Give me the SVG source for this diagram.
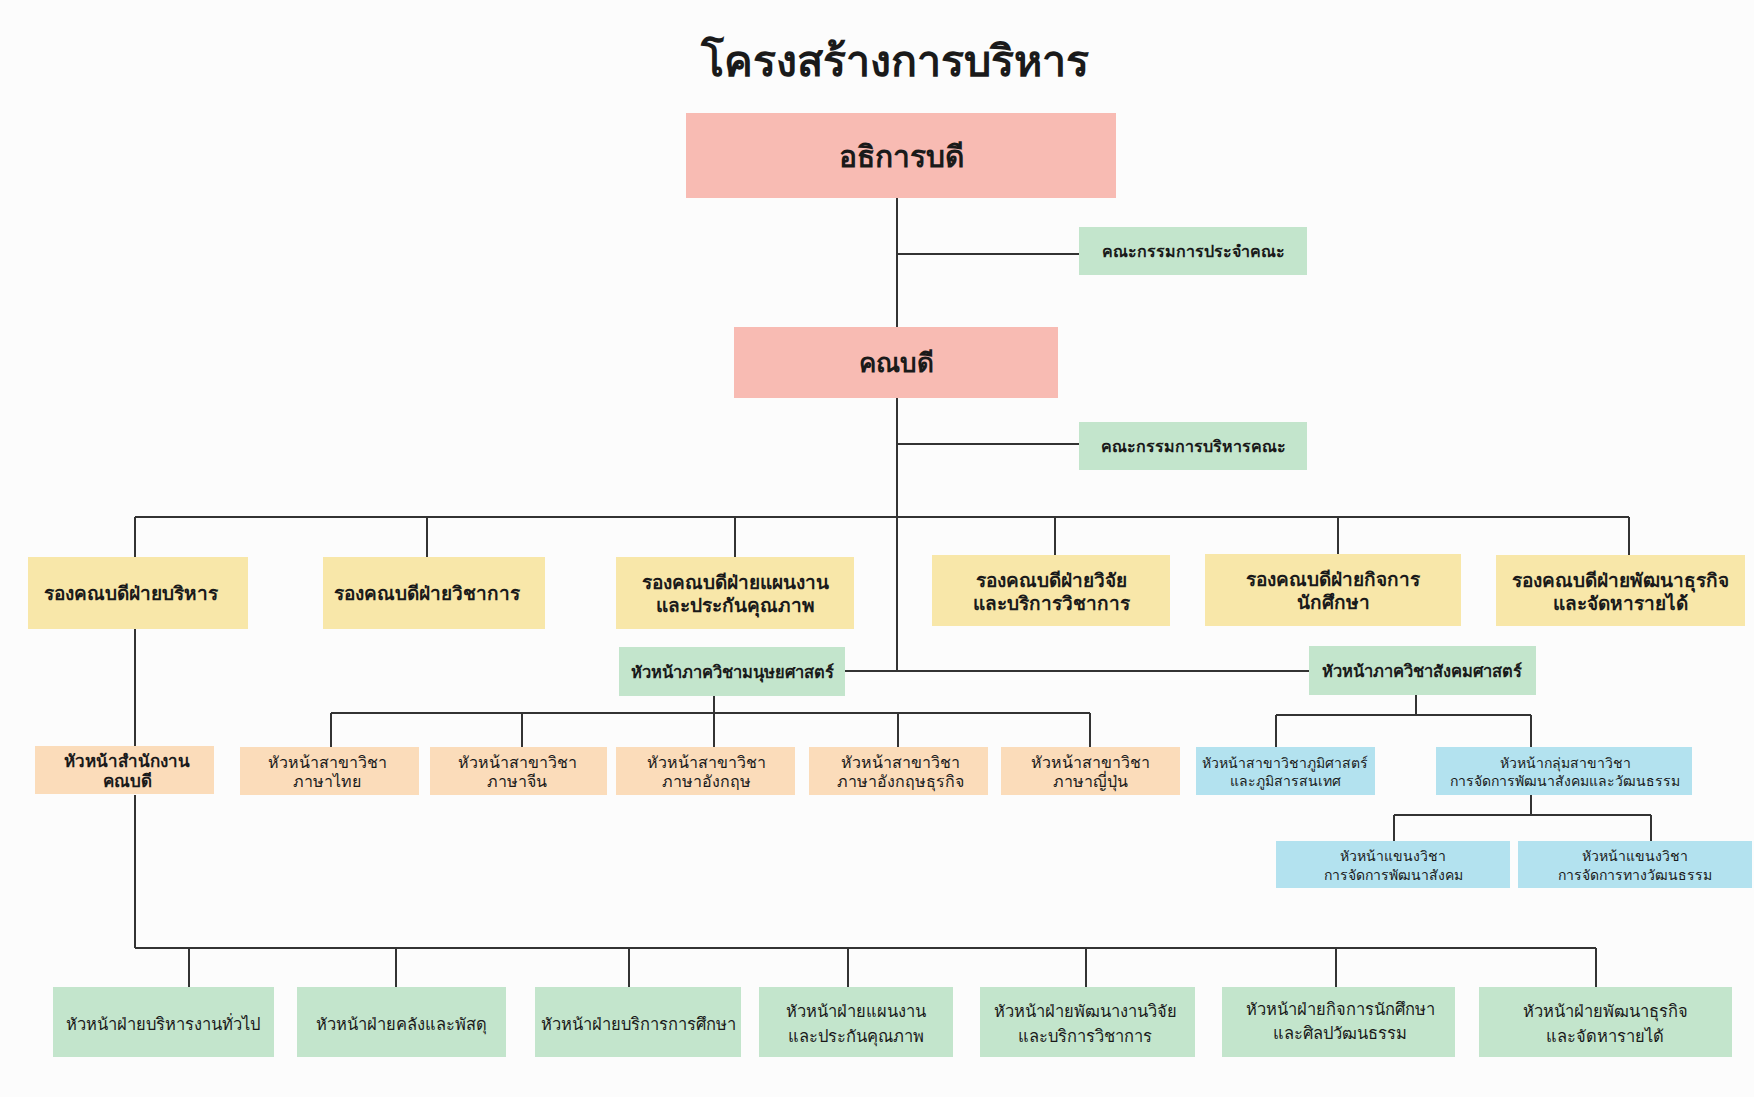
<svg xmlns="http://www.w3.org/2000/svg" width="1754" height="1097" viewBox="0 0 1754 1097">
<style>
text{font-family:"Noto Sans","Noto Sans CJK SC",sans-serif;fill:#1a1a1a;text-anchor:middle;dominant-baseline:central}
.title{font-size:43px;font-weight:700;dominant-baseline:alphabetic}
.pink{fill:#f8bbb3}
.green{fill:#c3e5cc}
.yellow{fill:#f8e7a9}
.orange{fill:#fbdcba}
.blue{fill:#b3e2ef}
.t1{font-size:30px;font-weight:700}
.t2{font-size:26px;font-weight:700}
.ty{font-size:19px;font-weight:700}
.tc{font-size:16px;font-weight:600}
.tg{font-size:16.5px;font-weight:700}
.to{font-size:16px}
.tob{font-size:17px;font-weight:600}
.tb{font-size:14px}
.tbot{font-size:16.5px}
.conn path{fill:none;stroke:#333;stroke-width:2}
</style>
<rect width="1754" height="1097" fill="#fcfcfc"/>
<text class="title" x="895" y="76">โครงสร้างการบริหาร</text>
<g class="conn" id="connectors">
<path d="M897 198V671"/>
<path d="M897 254H1079"/>
<path d="M897 444H1079"/>
<path d="M135 517H1629"/>
<path d="M135 517V557M135 629V747M135 795V948"/>
<path d="M427 517V557M735 517V557M1055 517V555M1338 517V554M1629 517V555"/>
<path d="M845 671H1309"/>
<path d="M714 696V713M331 713H1090M331 713V747M522 713V747M714 713V747M898 713V747M1090 713V747"/>
<path d="M1416 695V715M1276 715H1531M1276 715V747M1531 715V747"/>
<path d="M1531 795V815M1394 815H1651M1394 815V841M1651 815V841"/>
<path d="M135 948H1596M189 948V987M396 948V987M629 948V987M848 948V987M1086 948V987M1336 948V987M1596 948V987"/>
</g>
<g id="n-president"><rect class="pink" x="686" y="113" width="430" height="85"/><text class="t1" x="901" y="155">อธิการบดี</text></g>
<g id="n-board"><rect class="green" x="1079" y="227" width="228" height="48"/><text class="tc" x="1193" y="251">คณะกรรมการประจำคณะ</text></g>
<g id="n-dean"><rect class="pink" x="734" y="327" width="324" height="71"/><text class="t2" x="896" y="362">คณบดี</text></g>
<g id="n-exec"><rect class="green" x="1079" y="422" width="228" height="48"/><text class="tc" x="1193" y="446">คณะกรรมการบริหารคณะ</text></g>

<g id="n-vd-admin"><rect class="yellow" x="28" y="557" width="220" height="72"/><text class="ty" x="131" y="593">รองคณบดีฝ่ายบริหาร</text></g>
<g id="n-vd-acad"><rect class="yellow" x="323" y="557" width="222" height="72"/><text class="ty" x="427" y="593">รองคณบดีฝ่ายวิชาการ</text></g>
<g id="n-vd-plan"><rect class="yellow" x="616" y="557" width="238" height="72"/><text class="ty" x="735" y="582">รองคณบดีฝ่ายแผนงาน</text><text class="ty" x="735" y="605">และประกันคุณภาพ</text></g>
<g id="n-vd-research"><rect class="yellow" x="932" y="555" width="238" height="71"/><text class="ty" x="1051" y="580">รองคณบดีฝ่ายวิจัย</text><text class="ty" x="1051" y="603">และบริการวิชาการ</text></g>
<g id="n-vd-student"><rect class="yellow" x="1205" y="554" width="256" height="72"/><text class="ty" x="1333" y="579">รองคณบดีฝ่ายกิจการ</text><text class="ty" x="1333" y="602">นักศึกษา</text></g>
<g id="n-vd-business"><rect class="yellow" x="1496" y="555" width="249" height="71"/><text class="ty" x="1620" y="580">รองคณบดีฝ่ายพัฒนาธุรกิจ</text><text class="ty" x="1620" y="603">และจัดหารายได้</text></g>

<g id="n-hum"><rect class="green" x="619" y="647" width="226" height="49"/><text class="tg" x="732" y="671">หัวหน้าภาควิชามนุษยศาสตร์</text></g>
<g id="n-soc"><rect class="green" x="1309" y="646" width="227" height="49"/><text class="tg" x="1422" y="670">หัวหน้าภาควิชาสังคมศาสตร์</text></g>

<g id="n-office"><rect class="orange" x="35" y="746" width="179" height="48"/><text class="tob" x="127" y="760">หัวหน้าสำนักงาน</text><text class="tob" x="127" y="780">คณบดี</text></g>
<g id="n-thai"><rect class="orange" x="240" y="747" width="179" height="48"/><text class="to" x="327" y="762">หัวหน้าสาขาวิชา</text><text class="to" x="327" y="781">ภาษาไทย</text></g>
<g id="n-chinese"><rect class="orange" x="430" y="747" width="177" height="48"/><text class="to" x="517" y="762">หัวหน้าสาขาวิชา</text><text class="to" x="517" y="781">ภาษาจีน</text></g>
<g id="n-english"><rect class="orange" x="616" y="747" width="179" height="48"/><text class="to" x="706" y="762">หัวหน้าสาขาวิชา</text><text class="to" x="706" y="781">ภาษาอังกฤษ</text></g>
<g id="n-buseng"><rect class="orange" x="809" y="747" width="179" height="48"/><text class="to" x="900" y="762">หัวหน้าสาขาวิชา</text><text class="to" x="900" y="781">ภาษาอังกฤษธุรกิจ</text></g>
<g id="n-japanese"><rect class="orange" x="1001" y="747" width="179" height="48"/><text class="to" x="1090" y="762">หัวหน้าสาขาวิชา</text><text class="to" x="1090" y="781">ภาษาญี่ปุ่น</text></g>

<g id="n-geo"><rect class="blue" x="1196" y="747" width="179" height="48"/><text class="tb" x="1285" y="762">หัวหน้าสาขาวิชาภูมิศาสตร์</text><text class="tb" x="1285" y="780">และภูมิสารสนเทศ</text></g>
<g id="n-socdev"><rect class="blue" x="1436" y="747" width="256" height="48"/><text class="tb" x="1565" y="762">หัวหน้ากลุ่มสาขาวิชา</text><text class="tb" x="1565" y="780">การจัดการพัฒนาสังคมและวัฒนธรรม</text></g>
<g id="n-socmgmt"><rect class="blue" x="1276" y="841" width="234" height="47"/><text class="tb" x="1393" y="855">หัวหน้าแขนงวิชา</text><text class="tb" x="1393" y="874">การจัดการพัฒนาสังคม</text></g>
<g id="n-culmgmt"><rect class="blue" x="1518" y="841" width="234" height="47"/><text class="tb" x="1635" y="855">หัวหน้าแขนงวิชา</text><text class="tb" x="1635" y="874">การจัดการทางวัฒนธรรม</text></g>

<g id="n-genadmin"><rect class="green" x="53" y="987" width="221" height="70"/><text class="tbot" x="163" y="1023">หัวหน้าฝ่ายบริหารงานทั่วไป</text></g>
<g id="n-finance"><rect class="green" x="297" y="987" width="209" height="70"/><text class="tbot" x="401" y="1023">หัวหน้าฝ่ายคลังและพัสดุ</text></g>
<g id="n-eduserv"><rect class="green" x="535" y="987" width="206" height="70"/><text class="tbot" x="638" y="1023">หัวหน้าฝ่ายบริการการศึกษา</text></g>
<g id="n-planqa"><rect class="green" x="759" y="987" width="194" height="70"/><text class="tbot" x="856" y="1010">หัวหน้าฝ่ายแผนงาน</text><text class="tbot" x="856" y="1035">และประกันคุณภาพ</text></g>
<g id="n-resdev"><rect class="green" x="980" y="987" width="215" height="70"/><text class="tbot" x="1085" y="1010">หัวหน้าฝ่ายพัฒนางานวิจัย</text><text class="tbot" x="1085" y="1035">และบริการวิชาการ</text></g>
<g id="n-stuaff"><rect class="green" x="1222" y="987" width="233" height="70"/><text class="tbot" x="1340" y="1008">หัวหน้าฝ่ายกิจการนักศึกษา</text><text class="tbot" x="1340" y="1032">และศิลปวัฒนธรรม</text></g>
<g id="n-busdev"><rect class="green" x="1479" y="987" width="253" height="70"/><text class="tbot" x="1605" y="1010">หัวหน้าฝ่ายพัฒนาธุรกิจ</text><text class="tbot" x="1605" y="1035">และจัดหารายได้</text></g>
</svg>
